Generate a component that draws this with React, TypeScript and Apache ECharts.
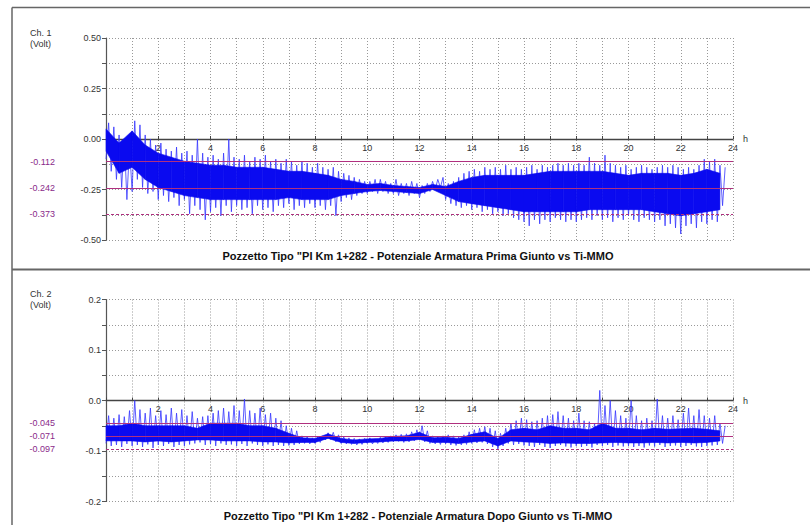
import React, { useEffect, useRef } from "react";
import * as echarts from "echarts";

// ---- sampling grids (hours) ----
const EXT_STEP_H = 0.2; // extremes sampled every 0.2 h
const CORE_STEP_H = 0.5; // dense core sampled every 0.5 h

// ---- Channel 1 (Volt): envelope extremes every 0.2 h from 0 to 23.6 h ----
const ch1Hi = [
  0.08, 0.06, 0.02, 0.0, -0.04, 0.09, 0.07, 0.02, 0.0, -0.03,
  -0.02, -0.05, -0.06, -0.04, -0.07, -0.06, -0.08, 0.0, -0.07, -0.09,
  -0.08, -0.1, -0.07, 0.0, -0.09, -0.1, -0.08, -0.11, -0.09, -0.1,
  -0.08, -0.11, -0.1, -0.12, -0.1, -0.11, -0.13, -0.11, -0.12, -0.14,
  -0.12, -0.14, -0.15, -0.14, -0.16, -0.17, -0.18, -0.19, -0.2, -0.21,
  -0.21, -0.2, -0.2, -0.21, -0.22, -0.2, -0.22, -0.22, -0.21, -0.22,
  -0.23, -0.22, -0.21, -0.2, -0.19, -0.22, -0.21, -0.19, -0.17, -0.16,
  -0.15, -0.16, -0.14, -0.15, -0.14, -0.15, -0.13, -0.15, -0.14, -0.15,
  -0.14, -0.13, -0.15, -0.13, -0.14, -0.13, -0.12, -0.13, -0.12, -0.13,
  -0.12, -0.13, -0.09, -0.12, -0.13, -0.08, -0.12, -0.13, -0.14, -0.13,
  -0.15, -0.14, -0.13, -0.14, -0.15, -0.14, -0.13, -0.14, -0.13, -0.14,
  -0.15, -0.14, -0.15, -0.13, -0.1, -0.11, -0.1, -0.13, -0.14,
];
const ch1Lo = [
  -0.1, -0.16, -0.2, -0.24, -0.3, -0.26, -0.2, -0.24, -0.27, -0.26,
  -0.3, -0.28, -0.31, -0.29, -0.33, -0.3, -0.37, -0.33, -0.35, -0.4,
  -0.36, -0.34, -0.38, -0.33, -0.36, -0.33, -0.35, -0.34, -0.37, -0.33,
  -0.35, -0.34, -0.36, -0.33, -0.34, -0.32, -0.35, -0.33, -0.34, -0.32,
  -0.34, -0.33, -0.35, -0.33, -0.38, -0.31, -0.29, -0.3, -0.28, -0.27,
  -0.27, -0.26, -0.27, -0.26, -0.27, -0.27, -0.28, -0.27, -0.28, -0.27,
  -0.29, -0.27, -0.26, -0.25, -0.24, -0.3, -0.32, -0.33, -0.34, -0.33,
  -0.35, -0.34, -0.36, -0.35, -0.37, -0.36, -0.38, -0.37, -0.39, -0.4,
  -0.41, -0.43, -0.4, -0.42, -0.4, -0.41, -0.39, -0.4, -0.41, -0.4,
  -0.41, -0.4, -0.39, -0.4, -0.38, -0.4, -0.39, -0.41, -0.39, -0.4,
  -0.38, -0.4, -0.41, -0.39, -0.4, -0.41, -0.4, -0.43, -0.42, -0.44,
  -0.47, -0.43, -0.42, -0.44, -0.41, -0.42, -0.4, -0.41, -0.33,
];
// dense core every 0.5 h
const ch1CoreHi = [
  0.05, -0.02, 0.04, -0.03, -0.07, -0.09, -0.11, -0.12, -0.13, -0.13,
  -0.14, -0.14, -0.14, -0.15, -0.16, -0.16, -0.17, -0.18, -0.2, -0.21,
  -0.225, -0.22, -0.23, -0.235, -0.24, -0.225, -0.235, -0.21, -0.19, -0.18,
  -0.18, -0.18, -0.18, -0.17, -0.16, -0.16, -0.16, -0.16, -0.16, -0.17,
  -0.18, -0.17, -0.17, -0.17, -0.18, -0.17, -0.15, -0.17,
];
const ch1CoreLo = [
  -0.06, -0.17, -0.14, -0.2, -0.24, -0.26, -0.28, -0.29, -0.3, -0.3,
  -0.3, -0.3, -0.3, -0.3, -0.29, -0.3, -0.3, -0.3, -0.28, -0.27,
  -0.26, -0.255, -0.26, -0.265, -0.27, -0.25, -0.28, -0.31, -0.32, -0.33,
  -0.34, -0.35, -0.36, -0.36, -0.36, -0.36, -0.36, -0.35, -0.35, -0.35,
  -0.35, -0.35, -0.36, -0.37, -0.38, -0.37, -0.36, -0.35,
];

// ---- Channel 2 (Volt) ----
const ch2Hi = [
  -0.03, -0.035, -0.028, -0.032, -0.02, 0.0, -0.018, -0.025, -0.015, -0.03,
  -0.02, -0.028, -0.015, -0.025, -0.018, -0.03, -0.022, -0.035, -0.032, -0.03,
  -0.025, -0.02, -0.015, -0.022, -0.01, -0.02, 0.003, -0.02, -0.025, -0.015,
  -0.028, -0.025, -0.035, -0.04, -0.05, -0.055, -0.06, -0.07, -0.072, -0.074,
  -0.073, -0.07, -0.064, -0.063, -0.068, -0.072, -0.074, -0.075, -0.076, -0.075,
  -0.074, -0.076, -0.073, -0.072, -0.07, -0.068, -0.067, -0.066, -0.062, -0.058,
  -0.05, -0.06, -0.07, -0.072, -0.07, -0.068, -0.07, -0.072, -0.068, -0.062,
  -0.058, -0.055, -0.052, -0.055, -0.06, -0.065, -0.055, -0.045, -0.04, -0.035,
  -0.038, -0.042, -0.04, -0.035, -0.03, -0.028, -0.022, -0.03, -0.035, -0.04,
  -0.025, -0.04, -0.042, -0.045, 0.02, -0.01, 0.0, -0.02, -0.03, -0.035,
  0.0, -0.03, -0.04, -0.035, -0.04, 0.003, -0.03, -0.035, -0.03, -0.038,
  -0.025, -0.015, -0.03, -0.018, -0.03, -0.035, -0.03, -0.045, -0.05,
];
const ch2Lo = [
  -0.085, -0.09, -0.088, -0.092, -0.086, -0.09, -0.088, -0.092, -0.087, -0.094,
  -0.088, -0.09, -0.086, -0.092, -0.088, -0.09, -0.087, -0.085, -0.083, -0.088,
  -0.086, -0.09, -0.085, -0.088, -0.087, -0.09, -0.086, -0.09, -0.085, -0.088,
  -0.09, -0.087, -0.09, -0.088, -0.09, -0.089, -0.088, -0.086, -0.085, -0.086,
  -0.085, -0.083, -0.078, -0.077, -0.082, -0.085, -0.086, -0.087, -0.088, -0.087,
  -0.085, -0.086, -0.085, -0.084, -0.083, -0.082, -0.081, -0.083, -0.082, -0.08,
  -0.078, -0.082, -0.085, -0.086, -0.087, -0.086, -0.088, -0.089, -0.088, -0.087,
  -0.085, -0.084, -0.083, -0.086, -0.092, -0.096, -0.09, -0.085, -0.088, -0.086,
  -0.089, -0.09, -0.092, -0.088, -0.092, -0.094, -0.09, -0.088, -0.091, -0.093,
  -0.09, -0.092, -0.09, -0.093, -0.088, -0.09, -0.088, -0.092, -0.089, -0.091,
  -0.09, -0.092, -0.09, -0.093, -0.089, -0.091, -0.088, -0.092, -0.09, -0.089,
  -0.092, -0.09, -0.088, -0.091, -0.092, -0.09, -0.089, -0.088, -0.085,
];
const ch2CoreHi = [
  -0.05, -0.05, -0.045, -0.05, -0.05, -0.05, -0.05, -0.055, -0.045, -0.045,
  -0.045, -0.05, -0.05, -0.055, -0.065, -0.074, -0.075, -0.066, -0.075, -0.078,
  -0.076, -0.075, -0.071, -0.07, -0.063, -0.074, -0.073, -0.075, -0.067, -0.062,
  -0.075, -0.058, -0.055, -0.058, -0.05, -0.055, -0.055, -0.058, -0.045, -0.055,
  -0.055, -0.058, -0.055, -0.057, -0.056, -0.055, -0.057, -0.06,
];
const ch2CoreLo = [
  -0.08, -0.08, -0.08, -0.082, -0.08, -0.082, -0.08, -0.078, -0.078, -0.08,
  -0.08, -0.08, -0.082, -0.082, -0.084, -0.083, -0.083, -0.075, -0.083, -0.085,
  -0.083, -0.082, -0.08, -0.08, -0.077, -0.083, -0.083, -0.085, -0.082, -0.08,
  -0.09, -0.08, -0.082, -0.083, -0.085, -0.084, -0.085, -0.085, -0.084, -0.083,
  -0.084, -0.084, -0.083, -0.084, -0.083, -0.084, -0.083, -0.08,
];

// ---- reference levels ----
const ch1Levels = [-0.112, -0.242, -0.373];
const ch2Levels = [-0.045, -0.071, -0.097];

// ---- tick labels ----
const xTickLabels = [2, 4, 6, 8, 10, 12, 14, 16, 18, 20, 22, 24];
const ch1TickLabels = [0.5, 0.25, 0, -0.25, -0.5];
const ch2TickLabels = [0.2, 0.1, 0, -0.1, -0.2];

const title1 = 'Pozzetto Tipo "PI Km 1+282 - Potenziale Armatura Prima Giunto vs Ti-MMO';
const title2 = 'Pozzetto Tipo "PI Km 1+282 - Potenziale Armatura Dopo Giunto vs Ti-MMO';

const FONT = '"Liberation Sans", Arial, sans-serif';
const BLUE = "#3535ff";
const CORE_BLUE = "#0a0af0";
const PURPLE = "#b0307f";
const PURPLE_TEXT = "#8a2a8a";
const GRID_H = 202;

function zigzag(hi: number[], lo: number[], step: number) {
  const out: number[][] = [];
  for (let i = 0; i < hi.length; i++) {
    out.push([i * step, lo[i]]);
    out.push([i * step + step / 2, hi[i]]);
  }
  return out;
}

function bandItems(hi: number[], lo: number[], step: number) {
  const out: number[][] = [];
  for (let i = 0; i < hi.length - 1; i++) {
    out.push([i * step, hi[i], lo[i], (i + 1) * step, hi[i + 1], lo[i + 1]]);
  }
  return out;
}

const bandRender = (params: any, api: any) => {
  const a = api.coord([api.value(0), api.value(1)]);
  const b = api.coord([api.value(0), api.value(2)]);
  const c = api.coord([api.value(3), api.value(5)]);
  const d = api.coord([api.value(3), api.value(4)]);
  return {
    type: "polygon",
    shape: { points: [a, b, c, d] },
    style: { fill: CORE_BLUE, stroke: CORE_BLUE, lineWidth: 0.6 },
  };
};

function makeX(gridIndex: number) {
  return {
    type: "value",
    gridIndex,
    min: 0,
    max: 24,
    interval: 1,
    position: "bottom",
    offset: -GRID_H / 2,
    name: "h",
    nameLocation: "end",
    nameGap: 10,
    nameTextStyle: { color: "#333", fontSize: 9, fontFamily: FONT, padding: [0, 0, 6, 0] },
    axisLine: { show: true, onZero: false, lineStyle: { color: "#444", width: 1.3 } },
    axisTick: { show: true, inside: true, length: 3, lineStyle: { color: "#444" } },
    axisLabel: {
      color: "#333",
      fontSize: 9,
      fontFamily: FONT,
      margin: 4,
      formatter: (v: number) => (xTickLabels.includes(v) ? String(v) : ""),
    },
    splitLine: { show: true, lineStyle: { color: "#999", type: [1, 2], width: 1 } },
  };
}

function makeY(gridIndex: number, min: number, max: number, interval: number, labels: number[], digits: number) {
  return {
    type: "value",
    gridIndex,
    min,
    max,
    interval,
    axisLine: { show: true, onZero: false, lineStyle: { color: "#555", width: 1.2 } },
    axisTick: { show: true, length: 4, lineStyle: { color: "#555" } },
    axisLabel: {
      color: "#333",
      fontSize: 9,
      fontFamily: FONT,
      margin: 5,
      formatter: (v: number) =>
        labels.some((l) => Math.abs(l - v) < 1e-9) ? v.toFixed(digits) : "",
    },
    splitLine: { show: true, lineStyle: { color: "#999", type: [1, 2], width: 1 } },
  };
}

function levelSeries(idx: number, levels: number[]) {
  return {
    type: "line",
    xAxisIndex: idx,
    yAxisIndex: idx,
    data: [],
    silent: true,
    z: 10,
    markLine: {
      silent: true,
      symbol: ["none", "none"],
      precision: 3,
      animation: false,
      lineStyle: { color: PURPLE, width: 1.2, type: "solid", opacity: 1 },
      label: {
        show: true,
        position: "start",
        distance: 51,
        color: PURPLE_TEXT,
        fontSize: 9,
        fontFamily: FONT,
        formatter: (p: any) => levels[p.dataIndex].toFixed(3),
      },
      data: levels.map((v, i) => ({
        yAxis: v,
        lineStyle: { color: PURPLE, width: 1.2, type: i === 2 ? [3, 2] : "solid", opacity: 1 },
      })),
    },
  };
}

export default function App() {
  const ref = useRef<HTMLDivElement>(null);
  useEffect(() => {
    document.body.style.margin = "0";
    const chart = echarts.init(ref.current!, null, { renderer: "svg" });
    const option: any = {
      animation: false,
      backgroundColor: "#ffffff",
      textStyle: { fontFamily: FONT },
      grid: [
        { left: 106, top: 38, width: 627, height: GRID_H },
        { left: 106, top: 299.5, width: 627, height: GRID_H },
      ],
      xAxis: [makeX(0), makeX(1)],
      yAxis: [
        makeY(0, -0.5, 0.5, 0.125, ch1TickLabels, 2),
        makeY(1, -0.2, 0.2, 0.05, ch2TickLabels, 1),
      ],
      graphic: [
        { type: "line", shape: { x1: 12, y1: 7.5, x2: 810, y2: 7.5 }, style: { stroke: "#666", lineWidth: 1.5 } },
        { type: "line", shape: { x1: 12, y1: 7.5, x2: 12, y2: 525 }, style: { stroke: "#666", lineWidth: 1.5 } },
        { type: "line", shape: { x1: 12, y1: 269.5, x2: 810, y2: 269.5 }, style: { stroke: "#666", lineWidth: 2 } },
        { type: "text", x: 30, y: 27, style: { text: "Ch. 1\n(Volt)", fill: "#333", font: `9px ${FONT}`, lineHeight: 11 } },
        { type: "text", x: 30, y: 288, style: { text: "Ch. 2\n(Volt)", fill: "#333", font: `9px ${FONT}`, lineHeight: 11 } },
        { type: "text", x: 418, y: 256, style: { text: title1, fill: "#111", font: `bold 11px ${FONT}`, align: "center", verticalAlign: "middle" } },
        { type: "text", x: 418, y: 516, style: { text: title2, fill: "#111", font: `bold 11px ${FONT}`, align: "center", verticalAlign: "middle" } },
      ],
      series: [
        {
          type: "line",
          xAxisIndex: 0,
          yAxisIndex: 0,
          data: zigzag(ch1Hi, ch1Lo, EXT_STEP_H),
          showSymbol: false,
          silent: true,
          lineStyle: { color: BLUE, width: 0.8 },
          z: 3,
        },
        {
          type: "custom",
          xAxisIndex: 0,
          yAxisIndex: 0,
          data: bandItems(ch1CoreHi, ch1CoreLo, CORE_STEP_H),
          renderItem: bandRender,
          silent: true,
          z: 4,
        },
        levelSeries(0, ch1Levels),
        {
          type: "line",
          xAxisIndex: 1,
          yAxisIndex: 1,
          data: zigzag(ch2Hi, ch2Lo, EXT_STEP_H),
          showSymbol: false,
          silent: true,
          lineStyle: { color: BLUE, width: 0.8 },
          z: 3,
        },
        {
          type: "custom",
          xAxisIndex: 1,
          yAxisIndex: 1,
          data: bandItems(ch2CoreHi, ch2CoreLo, CORE_STEP_H),
          renderItem: bandRender,
          silent: true,
          z: 4,
        },
        levelSeries(1, ch2Levels),
      ],
    };
    chart.setOption(option);
    return () => chart.dispose();
  }, []);
  return (
    <div
      ref={ref}
      style={{ position: "absolute", left: 0, top: 0, width: 810, height: 525, background: "#fff" }}
    />
  );
}
